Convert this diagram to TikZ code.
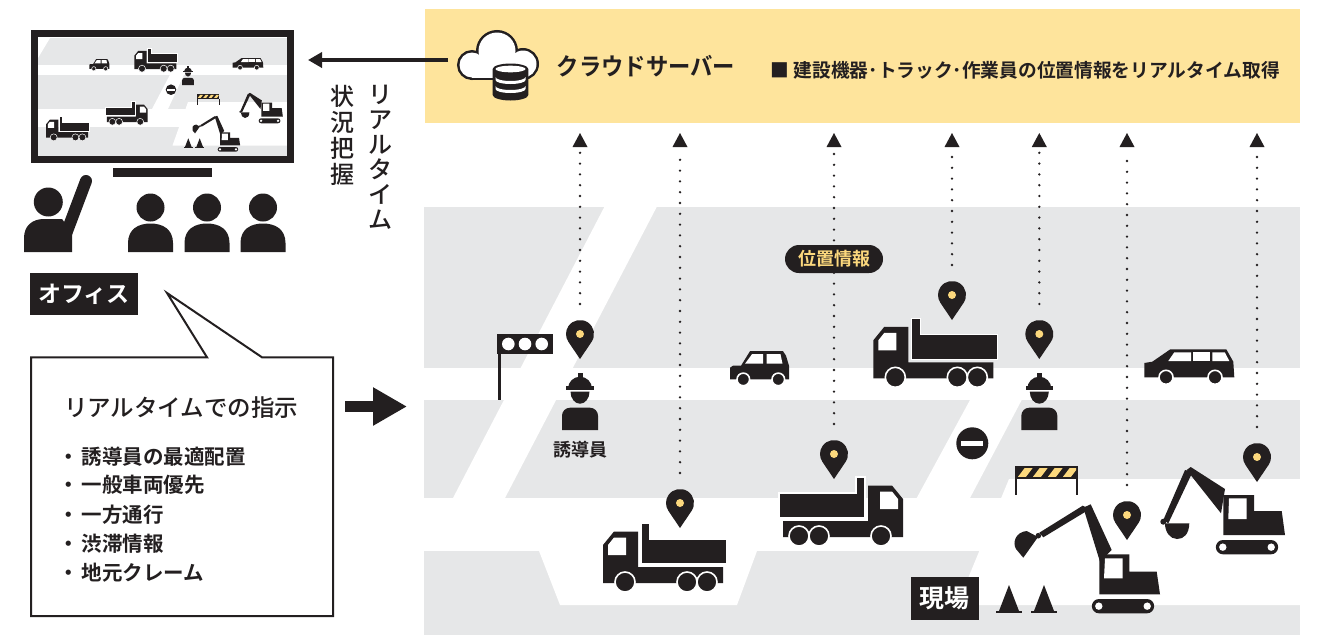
\documentclass[tikz,border=0pt]{standalone}
\usepackage{fontspec}
\newfontfamily\jpr{Noto Sans CJK JP}
\newfontfamily\jpm{Noto Sans CJK JP Medium}
\newfontfamily\jpb{Noto Sans CJK JP Bold}
\usetikzlibrary{arrows.meta}

\definecolor{ink}{RGB}{35,31,32}
\definecolor{bannerY}{RGB}{254,228,156}
\definecolor{pinY}{RGB}{252,216,125}
\definecolor{roadgrey}{RGB}{230,231,232}

% crawler track of an excavator, top left corner at the origin
\newcommand\drawcrawler{%
  \fill[ink] (7,0) -- (55,0) arc[start angle=-90,end angle=90,radius=7.15] -- (7,14.3) arc[start angle=90,end angle=270,radius=7.15] -- cycle;
  \fill[white] (6.8,7.15) circle[radius=3.7];
  \fill[white] (55.2,7.15) circle[radius=3.7];
}

\tikzset{
  outw/.store in=\outw, outw=1.6pt,
  dotline/.style={ink, line width=2.6pt, line cap=round, dash pattern=on 0pt off 10.8pt},
  tag/.style={fill=ink, text=white, inner sep=0pt},
  % location marker
  pics/locpin/.style={code={
    \fill[ink] (0,25) -- (34.1:14) arc[start angle=34.1,end angle=-214.1,radius=14] -- cycle;
    \fill[pinY] (0,0) circle[radius=4];
  }},
  pics/uptip/.style={code={\fill[ink] (0,0) -- (7.5,14) -- (-7.5,14) -- cycle;}},
  % dump truck, cab on the left
  pics/dumptruck/.style={code={
    \fill[ink] (0,22) -- (11,8.5) -- (35,8.5) -- (35,44) -- (120,44) -- (120,60) -- (0,60) -- cycle;
    \fill[white] (5,32) -- (5,22) -- (11,14.5) -- (23,14.5) -- (23,32) -- cycle;
    \filldraw[fill=ink, draw=white, line width=\outw] (38,0) -- (47,0) -- (47,16) -- (124,16) -- (124,41) -- (38,41) -- cycle;
    \foreach \wx in {22,84,104} \filldraw[fill=ink, draw=white, line width=\outw] (\wx,59) circle[radius=10];
  }},
  pics/hatchcar/.style={code={
    \fill[ink] (0,28.7) -- (0,17) -- (3,15) -- (11,15) -- (20,0.5) -- (53,0.5) -- (56,5) -- (59,15) -- (59,28.7) -- cycle;
    \fill[white] (15,13) -- (22,3.5) -- (33,3.5) -- (33,13) -- cycle;
    \fill[white] (36.5,3.5) -- (50.5,3.5) -- (52.5,13) -- (36.5,13) -- cycle;
    \foreach \wx in {13.3,48.3} \filldraw[fill=ink, draw=white, line width=\outw] (\wx,28.7) circle[radius=6.3];
  }},
  pics/wagon/.style={code={
    \fill[ink] (0,28.3) -- (0,14) -- (8,12.7) -- (26,0.3) -- (82,0.3) -- (89,12.7) -- (90,28.3) -- cycle;
    \fill[white] (24,12) -- (30,3.3) -- (46.7,3.3) -- (46.7,12) -- cycle;
    \fill[white] (49,3.3) rectangle (65.7,12);
    \fill[white] (68,3.3) -- (80.5,3.3) -- (85,12) -- (68,12) -- cycle;
    \foreach \wx in {21.7,70.7} \filldraw[fill=ink, draw=white, line width=\outw] (\wx,28.3) circle[radius=7];
  }},
  % worker with helmet, origin at the top of the helmet
  pics/worker/.style={code={
    \fill[ink] (-2.5,0) rectangle (2.5,5);
    \fill[ink] (-12,16) arc[start angle=180,end angle=360,radius=12] -- cycle;
    \fill[ink] (-13.7,13.3) rectangle (13.7,17.3);
    \fill[ink] (-9.5,19) arc[start angle=180,end angle=0,x radius=9.5,y radius=12] -- cycle;
    \fill[ink] (-18,57.3) -- (-18,43) arc[start angle=180,end angle=270,radius=8] -- (10,35) arc[start angle=270,end angle=360,radius=8] -- (18,57.3) -- cycle;
  }},
  pics/noentry/.style={code={
    \fill[ink] (0,0) circle[radius=16];
    \fill[white] (-11,-2.7) rectangle (11,2.7);
  }},
  pics/barrier/.style={code={
    \fill[ink] (0,0) rectangle (63.3,13.6);
    \begin{scope}
      \clip (2.3,2.5) rectangle (61,11.1);
      \foreach \k in {0,...,3}
        \fill[pinY] ({3+15*\k},11.1) -- ({9.5+15*\k},2.5) -- ({17.5+15*\k},2.5) -- ({11+15*\k},11.1) -- cycle;
    \end{scope}
    \fill[ink] (0,13.6) rectangle (2.3,29.3);
    \fill[ink] (61,13.6) rectangle (63.3,29.3);
  }},
  pics/cone/.style={code={
    \fill[ink] (0,0) -- (10,26) -- (-10,26) -- cycle;
    \fill[ink] (-13,25.5) rectangle (13,28);
  }},
  % excavator, arm stretched out to the left; origin at the top left of the crawler
  pics/excavatorA/.style={code={
    \fill[ink] (-8.7,-91.3) -- (-1.3,-94.7) -- (19.7,-49) -- (8,-37.3) -- cycle;
    \fill[ink] (-9.3,-93.3) -- (-2,-90) -- (-48.7,-61.7) -- (-52.7,-66.3) -- cycle;
    \fill[ink] (-54,-62) -- (-65.3,-68) .. controls (-76,-67) and (-80,-57) .. (-76,-50) -- (-68.7,-41.3) -- cycle;
    \fill[ink] (-53.7,-63.3) circle[radius=2.8];
    \fill[ink] (7.3,-4.7) -- (7.3,-44.7) -- (37.3,-44.7) -- (37.3,-27.3) -- (64.7,-27.3) -- (68,-4.7) -- cycle;
    \fill[white] (13,-40.7) -- (30.7,-40.7) -- (30.7,-20.7) -- (12,-20.7) -- cycle;
    \drawcrawler
  }},
  % excavator, arm pointing down
  pics/excavatorB/.style={code={
    \fill[ink] (-29.3,-70) -- (-25.3,-73) -- (9,-51) -- (5,-26.7) -- cycle;
    \fill[ink] (-31,-70) -- (-23.3,-68.3) -- (-47.7,-16.7) -- (-52.7,-20) -- cycle;
    \fill[ink] (-51,-16.7) -- (-26.7,-16.7) .. controls (-27,-6) and (-32,-1) .. (-39,-1) .. controls (-46,-1) and (-51,-8) .. cycle;
    \fill[ink] (-52.7,-18.3) circle[radius=3];
    \fill[ink] (7.3,-5) -- (7.3,-45) -- (38,-45) -- (38,-29) -- (65.7,-29) -- (69,-5) -- cycle;
    \fill[white] (13,-41.7) -- (30.7,-41.7) -- (30.7,-21) -- (12.3,-21) -- cycle;
    \drawcrawler
  }},
}

\begin{document}
\begin{tikzpicture}[x=1pt,y=-1pt]
\useasboundingbox (0,0) rectangle (1318,635);

% ---------- cloud server banner ----------
\node[fill=bannerY, minimum width=875pt, minimum height=113.4pt, inner sep=0pt, outer sep=0pt] (server) at (862.5,65.8) {};
% cloud: thick outline of every lobe, then the white interior on top
\foreach \lobe in {{(472,65) circle[radius=12.5]}, {(497,51) circle[radius=18.5]}, {(523,64) circle[radius=13.5]}, {(472,55) rectangle (523,77.5)}}
  \draw[ink, line width=5pt] \lobe;
\foreach \lobe in {{(472,65) circle[radius=12.5]}, {(497,51) circle[radius=18.5]}, {(523,64) circle[radius=13.5]}, {(472,55) rectangle (523,77.5)}}
  \fill[white] \lobe;
% database
\fill[ink] (492.7,69) -- (492.7,95) arc[start angle=180,end angle=0,x radius=17.8,y radius=5.5] -- (528.3,69) arc[start angle=0,end angle=-180,x radius=17.8,y radius=5.5] -- cycle;
\fill[white] (510.5,69) ellipse[x radius=15,y radius=3.3];
\fill[white] (495.5,77) arc[start angle=180,end angle=0,x radius=15,y radius=4] -- (525.5,80) arc[start angle=0,end angle=180,x radius=15,y radius=4] -- cycle;
\fill[white] (495.5,86) arc[start angle=180,end angle=0,x radius=15,y radius=4] -- (525.5,89) arc[start angle=0,end angle=180,x radius=15,y radius=4] -- cycle;

\node[ink, inner sep=0pt, font=\jpb\fontsize{24}{24}\selectfont] (srvname) at (646,66) {\scalebox{0.93}[1]{クラウドサーバー}};
\node[ink, inner sep=0pt, anchor=west, font=\jpb\fontsize{19}{19}\selectfont] (srvdesc) at (770,70) {\scalebox{0.985}[1]{■\hspace{5pt}建設機器･トラック･作業員の位置情報をリアルタイム取得}};

% ---------- office ----------
\begin{scope}
  \clip (38,38) rectangle (287,156);
  \fill[roadgrey] (38,38) rectangle (287,156);
  \fill[white] (38,64.7) rectangle (287,74.7);
  \fill[white] (38,109) rectangle (287,127);
  \fill[white] (38,38) -- (50,38) -- (38,58) -- cycle;
  \fill[white] (170,74.7) -- (184,74.7) -- (168,109) -- (152,109) -- cycle;
  \fill[white] (188,102) -- (287,102) -- (287,145.5) -- (172.5,145.5) -- cycle;
  \pic[scale=0.34, outw=0.5pt] at (89.3,59) {hatchcar};
  \pic[scale=0.35, outw=0.5pt] at (134.3,48) {dumptruck};
  \pic[scale=0.33] at (188,66.3) {worker};
  \pic[scale=0.34, outw=0.5pt] at (232.7,58) {wagon};
  \pic[scale=0.33] at (171,89.7) {noentry};
  \pic[scale=0.36] at (196.7,94) {barrier};
  \pic[scale=0.35] at (258.7,118.3) {excavatorB};
  \pic[scale=0.34, xscale=-1, outw=0.5pt] at (147.7,101.7) {dumptruck};
  \pic[scale=0.35, outw=0.5pt] at (46,116.7) {dumptruck};
  \pic[scale=0.33] at (217.7,147) {excavatorA};
  \pic[scale=0.36] at (188.3,138.3) {cone};
  \pic[scale=0.36] at (199.7,138.3) {cone};
\end{scope}
\node[draw=ink, line width=7pt, minimum width=256pt, minimum height=126pt, inner sep=0pt, outer sep=0pt] (monitor) at (162.5,96.5) {};
\fill[ink] (113,168) rectangle (212,177);

% people
\fill[ink] (48.3,202) circle[radius=14.5];
\fill[ink] (24,252) -- (24,238) .. controls (24,226) and (32,219) .. (44,219) -- (62,219) -- (72,232) -- (72,252) -- cycle;
\draw[ink, line width=12pt, line cap=round] (66,234) -- (86,181);
\foreach \px in {150.5,207,263} {
  \fill[ink] (\px,207.5) circle[radius=14];
  \fill[ink] ({\px-22.5},252) -- ({\px-22.5},243) .. controls ({\px-22.5},229) and ({\px-12},223.5) .. (\px,223.5) .. controls ({\px+12},223.5) and ({\px+22.5},229) .. ({\px+22.5},243) -- ({\px+22.5},252) -- cycle;
}
\node[tag, minimum width=108pt, minimum height=42pt, font=\jpb\fontsize{23}{23}\selectfont] (office) at (84,294) {オフィス};

% arrow from the server to the office screen
\coordinate (srvout) at (448,60);
\draw[ink, line width=4.5pt, -{Triangle[length=14pt,width=15pt]}, shorten >=17.5pt] (srvout) -- (monitor.east |- srvout);

% vertical caption
\node[ink, anchor=north, align=center, inner sep=0pt, font=\jpm\fontsize{24}{25}\selectfont] (vcap1) at (380,85) {リ\\ア\\ル\\タ\\イ\\ム};
\node[ink, anchor=north, align=center, inner sep=0pt, font=\jpm\fontsize{24}{26}\selectfont] (vcap2) at (342,85) {状\\況\\把\\握};

% instruction balloon
\draw[ink, line width=2pt, fill=white] (31,357.3) -- (207,357.3) -- (167,293) -- (262,357.3) -- (333,357.3) -- (333,616) -- (31,616) -- cycle;
\node[ink, anchor=west, inner sep=0pt, font=\jpm\fontsize{23.5}{23.5}\selectfont] (ordertitle) at (64,408) {リアルタイムでの指示};
\foreach \i/\yy/\txt in {1/456.7/誘導員の最適配置, 2/485/一般車両優先, 3/514.3/一方通行, 4/543.3/渋滞情報, 5/572.7/地元クレーム}
  \node[ink, anchor=west, inner sep=0pt, font=\jpb\fontsize{20.5}{20.5}\selectfont] (item\i) at (58,\yy) {・\hspace{3pt}\txt};

\coordinate (blkA) at (345,406.5);
\coordinate (blkB) at (407,406.5);
\draw[ink, line width=11pt, -{Triangle[length=34pt,width=36pt]}] (blkA) -- (blkB);

% ---------- site ----------
\fill[roadgrey] (424,207) rectangle (1300,635);
\fill[white] (424,368) rectangle (1300,400);
\fill[white] (424,498) rectangle (1300,551);
\fill[white] (604.3,207) -- (656.7,207) -- (505,498) -- (453,498) -- cycle;
\fill[white] (970,400) -- (1021.7,400) -- (970,498) -- (916.7,498) -- cycle;
\fill[white] (1009,479) -- (1300,479) -- (1300,605) -- (957,605) -- cycle;
\fill[white] (539,551) -- (757,551) -- (737,605) -- (560,605) -- cycle;

% position links up to the server
\foreach \n/\px/\py in {A/580/334, B/680/503, C/834/454, D/952/295, E/1039.3/334, F/1127/515, G/1257/457} {
  \coordinate (pin\n) at (\px,\py);
  \coordinate (tip\n) at (\px,133);
}
\foreach \n in {A,B,C,D,E,F,G} {
  \draw[dotline, shorten <=30pt, shorten >=19pt] (pin\n) -- (tip\n);
  \pic at (tip\n) {uptip};
}

% traffic light
\fill[ink] (497.7,354) rectangle (500.7,400);
\fill[ink] (496.7,334) rectangle (552.7,354);
\foreach \cx in {508.3,525,541.7} \fill[white] (\cx,344) circle[radius=6.3];

% vehicles, people and equipment
\pic at (603,523) {dumptruck};
\pic[xscale=-1] at (903,477) {dumptruck};
\pic at (873.3,318.3) {dumptruck};
\pic at (730,350.7) {hatchcar};
\pic at (1144.3,349) {wagon};
\pic at (580,372.7) {worker};
\pic at (1039.3,372.7) {worker};
\pic at (972.3,443.3) {noentry};
\pic at (1015,465.7) {barrier};
\pic at (1009,585) {cone};
\pic at (1044,585) {cone};
\pic at (1092,599) {excavatorA};
\pic at (1216,540) {excavatorB};

\foreach \n in {A,B,C,D,E,F,G} \pic at (pin\n) {locpin};

\node[ink, inner sep=0pt, font=\jpb\fontsize{18}{18}\selectfont] (guardlbl) at (580,450) {誘導員};
\node[fill=ink, text=pinY, rounded corners=14pt, minimum width=98pt, minimum height=28pt, inner sep=0pt, font=\jpb\fontsize{18}{18}\selectfont] (loclbl) at (834,259) {位置情報};
\node[tag, minimum width=68.3pt, minimum height=43.3pt, font=\jpb\fontsize{25}{25}\selectfont] (site) at (944.8,598.3) {現場};

\end{tikzpicture}
\end{document}
